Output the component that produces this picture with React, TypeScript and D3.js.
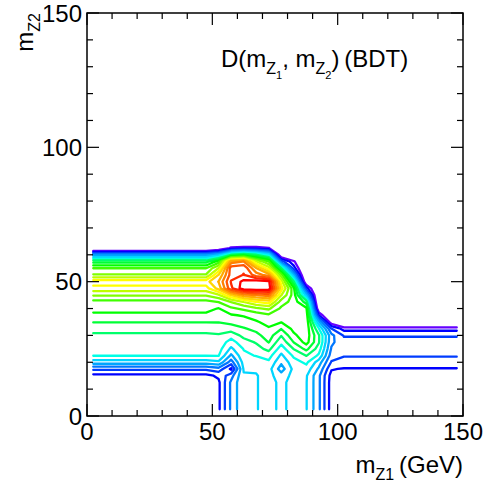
import React from 'react';
import * as d3 from 'd3';

const W = 497;
const H = 485;

// axis ranges and ticks
const xDomain = [0, 150];
const yDomain = [0, 150];
const majorTicks = [0, 50, 100, 150];
const minorTicks = [10, 20, 30, 40, 60, 70, 80, 90, 110, 120, 130, 140];

// histogram bin centres (GeV)
const xBinCenters = [2.5, 7.5, 12.5, 17.5, 22.5, 27.5, 32.5, 37.5, 42.5, 47.5, 52.5, 57.5, 62.5, 67.5, 72.5, 77.5, 82.5, 87.5, 92.5, 97.5, 102.5, 107.5, 112.5, 117.5, 122.5, 127.5, 132.5, 137.5, 142.5, 147.5];
const yBinCenters = [2.5, 5, 7.5, 10, 12.5, 15, 17.5, 20, 22.5, 25, 27.5, 30, 32.5, 35, 37.5, 40, 42.5, 45, 47.5, 50, 52.5, 55, 57.5, 60, 62.5, 65, 67.5, 70];

// contour levels
const levels = [1, 2, 3, 4, 5, 6, 7, 8, 9, 10, 11, 12, 13, 14, 15, 16, 17, 18, 19, 20];
const hueLevels = [1, 2, 4, 6, 7, 8, 10, 14, 20];
const hueValues = [264, 240, 212, 190, 174, 145, 120, 60, 0];

// discriminant profile (in level units) vs m_Z2, for m_Z1 <= 47.5
const leftProfile = [1.5, 1.5, 1.5, 1.5, 1.5, 1.7, 3.2, 5.5, 7.05, 7.4, 7.6, 7.85, 8.3, 9.05, 9.8, 10.3, 10.7, 12.1, 13.6, 14.6, 12.1, 11.0, 8.6, 4.6, -1.5, -1.5, -1.5, -1.5];
// for m_Z1 >= 102.5
const rightProfile = [1.5, 1.5, 1.5, 1.5, 1.5, 1.5, 1.9, 2.8, 3.04, 3.4, 3.4, 2.9, 1.6, -1.5, -1.5, -1.5, -1.5, -1.5, -1.5, -1.5, -1.5, -1.5, -1.5, -1.5, -1.5, -1.5, -1.5, -1.5];

// central columns, m_Z1 = 52.5 ... 97.5
const midColumnX = [52.5, 57.5, 62.5, 67.5, 72.5, 77.5, 82.5, 87.5, 92.5, 97.5];
const col52 = [1.8, 1.8, 1.8, 1.8, 1.8, 2.2, 3.6, 5.8, 7.05, 7.4, 7.6, 7.9, 8.4, 9.05, 9.5, 9.95, 11.05, 12.8, 15.4, 16.05, 15.05, 13.05, 10.5, 5.5, -0.8, -1.5, -1.5, -1.5];
const col57 = [4.2, 4.2, 4.2, 4.2, 4.2, 3.6, 1.8, 3.5, 4.8, 5.8, 6.6, 7.4, 8.5, 9.3, 9.9, 10.8, 12.05, 15.05, 18.8, 19.1, 18.5, 18.6, 16.5, 8.05, 1.3, -1.5, -1.5, -1.5];
const col62 = [5.9, 5.9, 5.9, 5.9, 5.9, 5.9, 6.1, 6.4, 6.8, 7.05, 7.6, 8.3, 8.9, 9.5, 10.1, 11.2, 13.05, 16.5, 20.6, 20.3, 19.05, 18.8, 17.05, 9.05, 1.6, -1.5, -1.5, -1.5];
const col67 = [5.95, 5.95, 5.95, 5.95, 5.95, 5.95, 6.1, 6.5, 7.05, 7.6, 8.1, 8.7, 9.3, 9.9, 10.4, 11.8, 14.05, 17.05, 20.9, 20.6, 17.5, 16.05, 13.05, 8.05, 1.5, -1.5, -1.5, -1.5];
const col72 = [6.3, 6.3, 6.3, 6.3, 6.3, 6.3, 6.4, 6.8, 7.4, 8.3, 9.05, 9.5, 9.9, 10.3, 10.8, 12.2, 14.5, 17.5, 20.7, 20.3, 16.5, 13.5, 11.05, 6.5, 1.1, -1.5, -1.5, -1.5];
const col77 = [5.8, 5.8, 5.8, 5.8, 5.8, 5.5, 4.5, 5.2, 5.8, 6.5, 7.3, 8.05, 9.05, 10.05, 10.4, 10.8, 11.5, 13.05, 14.5, 13.5, 11.5, 8.05, 3.5, -0.5, -1.5, -1.5, -1.5, -1.5];
const col82 = [6.3, 6.3, 6.3, 6.3, 6.3, 6.3, 6.3, 6.6, 7.2, 8.05, 9.05, 9.8, 10.3, 10.5, 10.6, 10.6, 10.6, 10.5, 10.2, 8.1, 5.2, 2.5, 1.2, -1.5, -1.5, -1.5, -1.5, -1.5];
const col87 = [6.05, 6.05, 6.05, 6.05, 6.05, 6.1, 6.6, 7.2, 8.05, 9.3, 10.4, 10.6, 10.7, 10.7, 10.6, 10.2, 8.5, 5.5, 2.5, -0.5, -1.5, -1.5, -1.5, -1.5, -1.5, -1.5, -1.5, -1.5];
const col92 = [4.2, 4.2, 4.2, 4.2, 4.2, 4.2, 4.8, 5.5, 6.8, 7.5, 8.1, 8.1, 7.05, 5.2, 2.05, -0.5, -1.5, -1.5, -1.5, -1.5, -1.5, -1.5, -1.5, -1.5, -1.5, -1.5, -1.5, -1.5];
const col97 = [1.5, 1.5, 1.5, 1.5, 1.5, 1.6, 2.1, 2.9, 3.5, 3.9, 4.2, 4.3, 3.05, 0.2, -1.5, -1.5, -1.5, -1.5, -1.5, -1.5, -1.5, -1.5, -1.5, -1.5, -1.5, -1.5, -1.5, -1.5];
const midColumns = [col52, col57, col62, col67, col72, col77, col82, col87, col92, col97];

const FONT = "'Liberation Sans', Arial, Helvetica, sans-serif";

const L = 87, R = 463, T = 13, B = 416;

export default function App() {
  const x = d3.scaleLinear().domain(xDomain).range([L, R]);
  const y = d3.scaleLinear().domain(yDomain).range([B, T]);

  const n = xBinCenters.length;
  const m = yBinCenters.length;
  const values: number[] = new Array(n * m);
  for (let j = 0; j < m; j++) {
    for (let i = 0; i < n; i++) {
      const xc = xBinCenters[i];
      const k = midColumnX.indexOf(xc);
      values[j * n + i] = k >= 0 ? midColumns[k][j] : xc < midColumnX[0] ? leftProfile[j] : rightProfile[j];
    }
  }

  const hue = d3.scaleLinear().domain(hueLevels).range(hueValues);
  const color = (lv: number) => d3.hsl(hue(lv), 1, 0.5).formatHex();

  const xStep = xBinCenters[1] - xBinCenters[0];
  const yStep = yBinCenters[1] - yBinCenters[0];
  const line = d3
    .line<[number, number]>()
    .x((p) => x(xBinCenters[0] + (p[0] - 0.5) * xStep))
    .y((p) => y(yBinCenters[0] + (p[1] - 0.5) * yStep));

  const contours = d3.contours().size([n, m]).thresholds(levels)(values);
  const isBorder = (p: number[]) => p[0] <= 0 || p[0] >= n || p[1] <= 0 || p[1] >= m;
  const paths: { lv: number; d: string }[] = [];
  contours.forEach((c) => {
    c.coordinates.forEach((poly) =>
      poly.forEach((ring) => {
        const pts = ring.slice(0, -1) as [number, number][];
        const bi = pts.findIndex(isBorder);
        const runs: [number, number][][] = [];
        if (bi < 0) {
          runs.push(ring as [number, number][]);
        } else {
          const rot = pts.slice(bi).concat(pts.slice(0, bi));
          rot.push(rot[0]);
          let cur: [number, number][] = [];
          rot.forEach((p) => {
            if (isBorder(p)) {
              if (cur.length > 1) runs.push(cur);
              cur = [];
            } else cur.push(p);
          });
          if (cur.length > 1) runs.push(cur);
        }
        runs.forEach((r) => paths.push({ lv: c.value, d: line(r) || '' }));
      })
    );
  });

  const majLen = 12;
  const minLen = 6;

  return (
    <svg width={W} height={H} style={{ position: 'absolute', left: 0, top: 0, background: '#fff' }} fontFamily={FONT}>
      <rect x={0} y={0} width={W} height={H} fill="#fff" />
      <g fill="none" strokeWidth={2.3} strokeLinejoin="round" strokeLinecap="round">
        {paths.map((p, i) => (
          <path key={i} d={p.d} stroke={color(p.lv)} />
        ))}
      </g>
      {/* frame */}
      <rect x={L} y={T} width={R - L} height={B - T} fill="none" stroke="#000" strokeWidth={1.5} />
      <g stroke="#000" strokeWidth={1.2}>
        {majorTicks.map((t) => (
          <g key={'mx' + t}>
            <line x1={x(t)} x2={x(t)} y1={B} y2={B - majLen} />
            <line x1={x(t)} x2={x(t)} y1={T} y2={T + majLen} />
            <line x1={L} x2={L + majLen} y1={y(t)} y2={y(t)} />
            <line x1={R} x2={R - majLen} y1={y(t)} y2={y(t)} />
          </g>
        ))}
        {minorTicks.map((t) => (
          <g key={'mn' + t}>
            <line x1={x(t)} x2={x(t)} y1={B} y2={B - minLen} />
            <line x1={x(t)} x2={x(t)} y1={T} y2={T + minLen} />
            <line x1={L} x2={L + minLen} y1={y(t)} y2={y(t)} />
            <line x1={R} x2={R - minLen} y1={y(t)} y2={y(t)} />
          </g>
        ))}
      </g>
      <g fontSize={24} fill="#000">
        {majorTicks.map((t) => (
          <text key={'xl' + t} x={x(t)} y={440} textAnchor="middle">
            {String(t)}
          </text>
        ))}
        {majorTicks.map((t) => (
          <text key={'yl' + t} x={82} y={y(t) + 8.5} textAnchor="end">
            {String(t)}
          </text>
        ))}
      </g>
      {/* axis titles */}
      <text x={R} y={473} textAnchor="end" fontSize={24}>
        m<tspan fontSize={16} dy={7}>Z1</tspan>
        <tspan fontSize={24} dy={-7}>{'\u2009(GeV)'}</tspan>
      </text>
      <text transform={`translate(33,${T}) rotate(-90)`} textAnchor="end" fontSize={24}>
        m<tspan fontSize={16} dy={7}>Z2</tspan>
      </text>
      {/* label */}
      <text x={221} y={66.5} fontSize={24}>
        D(m<tspan fontSize={16} dy={7}>Z</tspan>
        <tspan fontSize={11} dy={5}>1</tspan>
        <tspan fontSize={24} dy={-12}>, m</tspan>
        <tspan fontSize={16} dy={7}>Z</tspan>
        <tspan fontSize={11} dy={5}>2</tspan>
        <tspan fontSize={24} dy={-12}>{')\u2009(BDT)'}</tspan>
      </text>
    </svg>
  );
}
